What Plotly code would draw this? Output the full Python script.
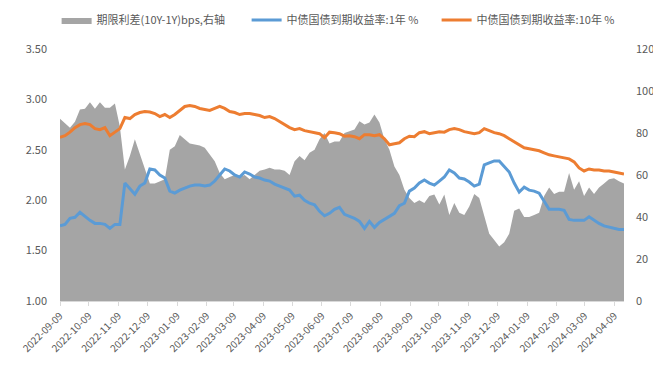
import plotly.graph_objects as go
import pandas as pd

start_date = "2022-09-09"
end_date = "2024-04-19"

# 期限利差 (10Y-1Y), bps, right axis
spread_bps = [
    86.8, 84.8, 82.5, 85.3, 91.2, 91.5, 94.7, 91.5, 94.7, 92, 92, 94, 83, 62.6, 69, 77, 70, 62, 56, 56, 57, 58, 72, 73.7, 79, 77, 75, 74.5, 74,
    73, 70, 66.6, 61, 58, 59, 60, 59, 60, 58, 60, 62, 62.6, 63.4, 62.6, 62.6, 62, 60, 66.6, 69, 67, 70.6, 72, 77, 80, 75, 76, 76,
    80, 81, 81.7, 85.6, 84, 85, 88.8, 85, 77, 72, 64, 60, 53, 49, 46.7, 48, 46.7, 50, 50.7, 46, 50.7, 41, 46.7, 42, 41, 45, 51, 49,
    40, 32, 29, 26, 28, 32, 43, 44, 40, 40, 41, 42, 50, 54, 51, 52, 52, 61, 53, 57, 50, 54, 51, 54, 56, 58, 58.5, 57, 56,
]

# 中债国债到期收益率:1年 %
yield_1y = [
    1.746, 1.76, 1.82, 1.83, 1.88, 1.84, 1.80, 1.77, 1.77, 1.76, 1.72, 1.76, 1.76, 2.17, 2.12, 2.06, 2.14, 2.17, 2.31, 2.30, 2.25, 2.22, 2.09, 2.07, 2.10, 2.12, 2.14, 2.15, 2.15,
    2.14, 2.15, 2.19, 2.25, 2.31, 2.29, 2.25, 2.23, 2.28, 2.26, 2.23, 2.22, 2.20, 2.19, 2.16, 2.14, 2.12, 2.10, 2.04, 2.05, 2.00, 1.97, 1.955, 1.89, 1.845, 1.87, 1.91, 1.93,
    1.86, 1.84, 1.82, 1.79, 1.72, 1.79, 1.73, 1.78, 1.81, 1.845, 1.87, 1.945, 1.97, 2.09, 2.12, 2.17, 2.20, 2.17, 2.15, 2.19, 2.23, 2.30, 2.27, 2.22, 2.21, 2.18, 2.14, 2.16,
    2.35, 2.37, 2.39, 2.39, 2.33, 2.28, 2.17, 2.08, 2.13, 2.10, 2.09, 2.07, 1.99, 1.91, 1.91, 1.91, 1.90, 1.81, 1.80, 1.80, 1.80, 1.835, 1.80, 1.77, 1.745, 1.735, 1.725, 1.71, 1.71,
]

# 中债国债到期收益率:10年 %
yield_10y = [
    2.625, 2.64, 2.675, 2.72, 2.75, 2.76, 2.75, 2.71, 2.70, 2.72, 2.64, 2.675, 2.71, 2.82, 2.81, 2.85, 2.87, 2.88, 2.875, 2.86, 2.83, 2.85, 2.82, 2.85, 2.89, 2.93, 2.94, 2.93, 2.91,
    2.90, 2.89, 2.91, 2.93, 2.91, 2.88, 2.87, 2.85, 2.86, 2.86, 2.85, 2.84, 2.82, 2.83, 2.81, 2.78, 2.75, 2.72, 2.70, 2.71, 2.69, 2.68, 2.67, 2.66, 2.62, 2.675, 2.67, 2.66,
    2.635, 2.64, 2.63, 2.61, 2.65, 2.65, 2.64, 2.65, 2.61, 2.55, 2.56, 2.57, 2.61, 2.635, 2.63, 2.67, 2.68, 2.66, 2.67, 2.68, 2.675, 2.70, 2.71, 2.70, 2.68, 2.67, 2.66, 2.67,
    2.71, 2.69, 2.67, 2.66, 2.64, 2.61, 2.58, 2.55, 2.52, 2.51, 2.50, 2.49, 2.47, 2.45, 2.44, 2.43, 2.42, 2.41, 2.38, 2.32, 2.29, 2.31, 2.30, 2.30, 2.29, 2.29, 2.28, 2.27, 2.26,
]

dates = pd.date_range(start_date, end_date, periods=len(spread_bps))

tick_dates = pd.date_range("2022-09-09", "2024-04-09", freq=pd.DateOffset(months=1))
tick_labels = [d.strftime("%Y-%m-%d") for d in tick_dates]

names = ["期限利差(10Y-1Y)bps,右轴", "中债国债到期收益率:1年 %", "中债国债到期收益率:10年 %"]
colors = ["#A5A5A5", "#5B9BD5", "#ED7D31"]

font_family = "Noto Sans CJK SC"
text_color = "#595959"

fig = go.Figure()
fig.add_trace(go.Scatter(
    x=dates, y=spread_bps, name=names[0], mode="lines",
    fill="tozeroy", fillcolor=colors[0], line=dict(width=0, color=colors[0]),
    yaxis="y",
))
fig.add_trace(go.Scatter(
    x=dates, y=yield_1y, name=names[1], mode="lines",
    line=dict(width=3, color=colors[1]), yaxis="y2",
))
fig.add_trace(go.Scatter(
    x=dates, y=yield_10y, name=names[2], mode="lines",
    line=dict(width=3, color=colors[2]), yaxis="y2",
))

# the page body adds an 8px margin, so the figure is sized to fit inside the window
fig.update_layout(
    width=653, height=358,
    margin=dict(l=52, r=37, t=41, b=65, autoexpand=False),
    paper_bgcolor="white", plot_bgcolor="white",
    font=dict(family=font_family, size=11, color=text_color),
    showlegend=True,
    legend=dict(
        orientation="h", xref="paper", yref="paper",
        x=-0.006, y=1.115, xanchor="left", yanchor="middle",
        font=dict(size=11, color=text_color), entrywidth=145,
        bgcolor="rgba(0,0,0,0)",
    ),
    xaxis=dict(
        type="date", range=[start_date, end_date],
        tickmode="array", tickvals=tick_dates, ticktext=tick_labels,
        tickangle=-45, ticks="outside", ticklen=4, tickcolor="#D9D9D9",
        showline=True, linecolor="#D9D9D9", linewidth=1,
        showgrid=False, zeroline=False, automargin=False,
        tickfont=dict(size=10, color=text_color),
    ),
    yaxis=dict(
        side="right", range=[0, 120], dtick=20,
        showgrid=False, zeroline=False, showline=False, automargin=False,
        tickfont=dict(size=11, color=text_color),
        ticklabelstandoff=11,
    ),
    yaxis2=dict(
        overlaying="y", side="left", range=[1, 3.5], dtick=0.5,
        tickformat=".2f", showgrid=False, zeroline=False, showline=False, automargin=False,
        tickfont=dict(size=11, color=text_color),
        ticklabelstandoff=12,
    ),
)

fig.write_html("out.html")
